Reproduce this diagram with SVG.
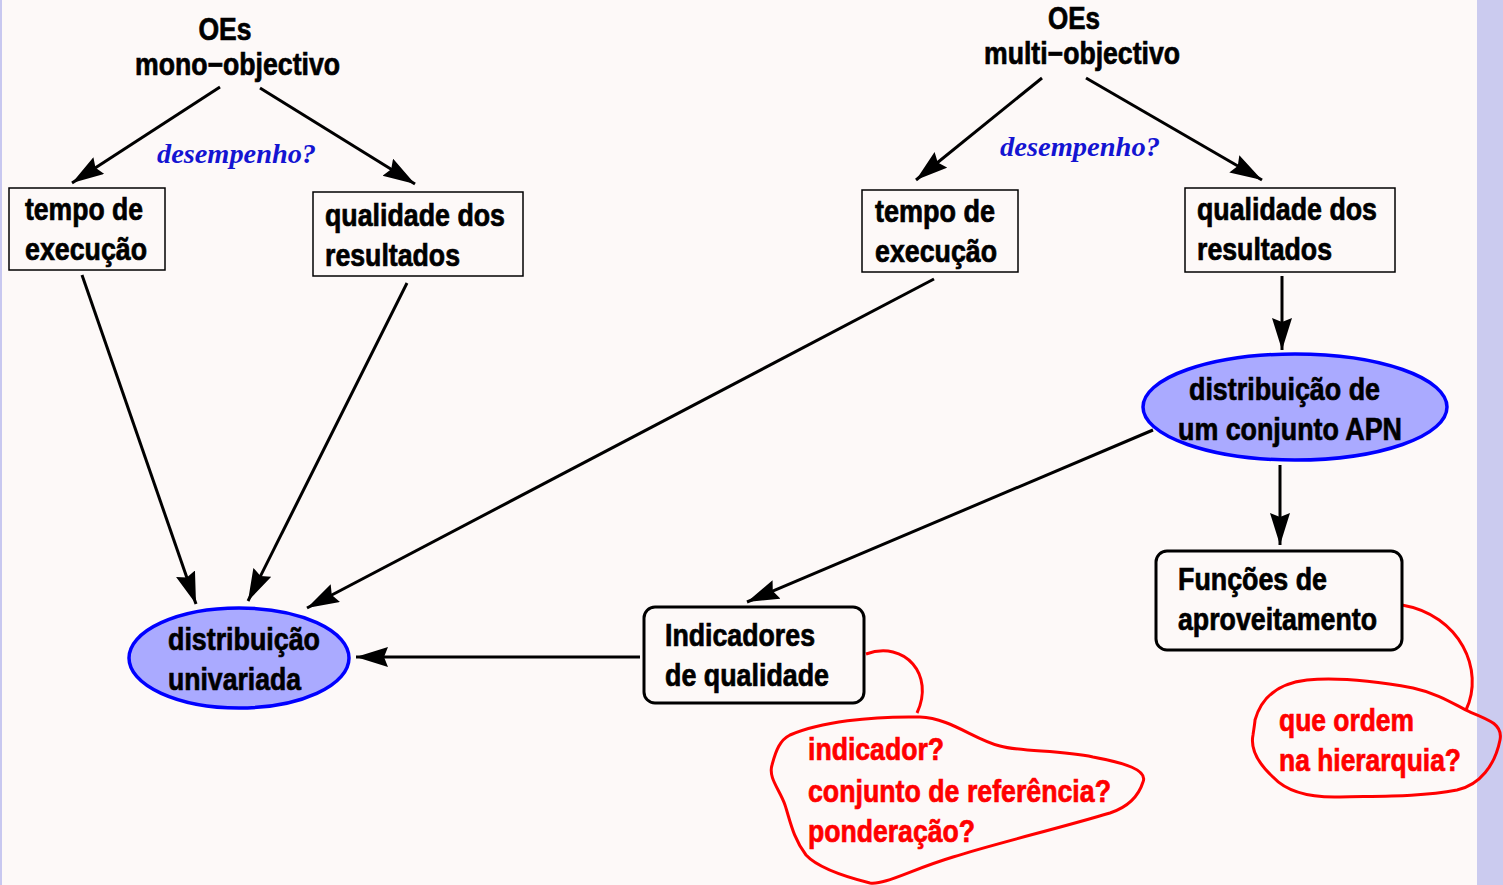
<svg xmlns="http://www.w3.org/2000/svg" width="1503" height="885" viewBox="0 0 1503 885">
<defs>
<marker id="ah" markerUnits="userSpaceOnUse" markerWidth="34" markerHeight="22" refX="32" refY="10" orient="auto">
<path d="M0,0 L32,10 L0,20 L4,10 Z" fill="#000"/>
</marker>
<style>
.t{font-family:"Liberation Sans",Arial,sans-serif;font-weight:bold;font-size:31px;fill:#000;stroke:#000;stroke-width:0.7}
.r{fill:#ff0000;stroke:#ff0000}
.q{font-family:"Liberation Serif","Times New Roman",serif;font-weight:bold;font-style:italic;font-size:28px;fill:#1414d2}
.box{fill:none;stroke:#000;stroke-width:1.5}
.rbox{fill:none;stroke:#000;stroke-width:3}
.ell{fill:#aaaaff;stroke:#0000ff;stroke-width:3.5}
.c{fill:none;stroke:#000;stroke-width:3;marker-end:url(#ah)}
.cl{fill:none;stroke:#ff0000;stroke-width:3}
</style>
</defs>
<rect x="0" y="0" width="1503" height="885" fill="#fdf9f8"/>
<rect x="1477" y="0" width="26" height="885" fill="#cbcbef"/>
<rect x="0" y="0" width="2" height="885" fill="#c8c8f0"/>

<g id="connectors">
<line class="c" x1="220" y1="87" x2="72" y2="183"/>
<line class="c" x1="260" y1="88" x2="415" y2="184"/>
<line class="c" x1="1042" y1="78" x2="916" y2="180"/>
<line class="c" x1="1086" y1="78" x2="1262" y2="180"/>
<line class="c" x1="82" y1="275" x2="196" y2="604"/>
<line class="c" x1="407" y1="283" x2="248" y2="601"/>
<line class="c" x1="934" y1="279" x2="307" y2="608"/>
<line class="c" x1="1282" y1="276" x2="1282" y2="350"/>
<line class="c" x1="1153" y1="430" x2="747" y2="602"/>
<line class="c" x1="1280" y1="465" x2="1280" y2="545"/>
<line class="c" x1="640" y1="657" x2="356" y2="657"/>
<path class="cl" d="M866,654 C905,640 935,675 917,713"/>
<path class="cl" d="M1402,605 C1460,615 1485,670 1466,710"/>
</g>

<g id="label-mono">
<text class="t" x="225" y="40" text-anchor="middle" textLength="53" lengthAdjust="spacingAndGlyphs">OEs</text>
<text class="t" x="135" y="75" textLength="205" lengthAdjust="spacingAndGlyphs">mono−objectivo</text>
</g>
<g id="label-multi">
<text class="t" x="1074" y="29" text-anchor="middle" textLength="52" lengthAdjust="spacingAndGlyphs">OEs</text>
<text class="t" x="984" y="64" textLength="196" lengthAdjust="spacingAndGlyphs">multi−objectivo</text>
</g>
<g id="desempenho-1"><text class="q" x="157" y="163" textLength="159" lengthAdjust="spacingAndGlyphs">desempenho?</text></g>
<g id="desempenho-2"><text class="q" x="1000" y="156" textLength="160" lengthAdjust="spacingAndGlyphs">desempenho?</text></g>

<g id="tempo-mono">
<rect class="box" x="9" y="188" width="156" height="82"/>
<text class="t" x="25" y="220" textLength="118" lengthAdjust="spacingAndGlyphs">tempo de</text>
<text class="t" x="25" y="260" textLength="122" lengthAdjust="spacingAndGlyphs">execução</text>
</g>
<g id="qualidade-mono">
<rect class="box" x="313" y="192" width="210" height="84"/>
<text class="t" x="325" y="226" textLength="180" lengthAdjust="spacingAndGlyphs">qualidade dos</text>
<text class="t" x="325" y="266" textLength="135" lengthAdjust="spacingAndGlyphs">resultados</text>
</g>
<g id="tempo-multi">
<rect class="box" x="862" y="190" width="156" height="82"/>
<text class="t" x="875" y="222" textLength="120" lengthAdjust="spacingAndGlyphs">tempo de</text>
<text class="t" x="875" y="262" textLength="122" lengthAdjust="spacingAndGlyphs">execução</text>
</g>
<g id="qualidade-multi">
<rect class="box" x="1185" y="188" width="210" height="84"/>
<text class="t" x="1197" y="220" textLength="180" lengthAdjust="spacingAndGlyphs">qualidade dos</text>
<text class="t" x="1197" y="260" textLength="135" lengthAdjust="spacingAndGlyphs">resultados</text>
</g>
<g id="dist-apn">
<ellipse class="ell" cx="1295" cy="407" rx="152" ry="53"/>
<text class="t" x="1189" y="400" textLength="191" lengthAdjust="spacingAndGlyphs">distribuição de</text>
<text class="t" x="1178" y="440" textLength="224" lengthAdjust="spacingAndGlyphs">um conjunto APN</text>
</g>
<g id="dist-univariada">
<ellipse class="ell" cx="239" cy="658" rx="110" ry="50"/>
<text class="t" x="168" y="650" textLength="152" lengthAdjust="spacingAndGlyphs">distribuição</text>
<text class="t" x="168" y="690" textLength="133" lengthAdjust="spacingAndGlyphs">univariada</text>
</g>
<g id="indicadores">
<rect class="rbox" x="644" y="607" width="220" height="96" rx="11"/>
<text class="t" x="665" y="646" textLength="150" lengthAdjust="spacingAndGlyphs">Indicadores</text>
<text class="t" x="665" y="686" textLength="164" lengthAdjust="spacingAndGlyphs">de qualidade</text>
</g>
<g id="funcoes">
<rect class="rbox" x="1156" y="551" width="246" height="99" rx="11"/>
<text class="t" x="1178" y="590" textLength="149" lengthAdjust="spacingAndGlyphs">Funções de</text>
<text class="t" x="1178" y="630" textLength="199" lengthAdjust="spacingAndGlyphs">aproveitamento</text>
</g>
<g id="cloud-indicadores">
<path class="cl" d="M790,735 C820,722 870,716 920,717 C950,718 975,740 1000,746 C1020,752 1060,750 1093,757 C1125,763 1148,770 1143,782 C1138,798 1125,808 1110,813 C1060,828 990,845 953,857 C910,870 885,885 870,883 C850,878 818,868 806,855 C793,838 790,820 785,805 C780,790 768,778 772,765 C776,750 780,740 790,735 Z"/>
<text class="t r" x="808" y="760" textLength="136" lengthAdjust="spacingAndGlyphs">indicador?</text>
<text class="t r" x="808" y="802" textLength="303" lengthAdjust="spacingAndGlyphs">conjunto de referência?</text>
<text class="t r" x="808" y="842" textLength="167" lengthAdjust="spacingAndGlyphs">ponderação?</text>
</g>
<g id="cloud-funcoes">
<path class="cl" d="M1255,720 C1262,695 1280,683 1307,680 C1340,677 1380,682 1413,688 C1440,694 1455,705 1470,712 C1490,720 1503,725 1500,740 C1495,765 1480,785 1457,790 C1420,797 1380,796 1340,797 C1305,798 1285,790 1273,777 C1260,765 1250,750 1253,735 C1254,728 1255,722 1255,720 Z"/>
<text class="t r" x="1279" y="731" textLength="135" lengthAdjust="spacingAndGlyphs">que ordem</text>
<text class="t r" x="1279" y="771" textLength="182" lengthAdjust="spacingAndGlyphs">na hierarquia?</text>
</g>
</svg>
